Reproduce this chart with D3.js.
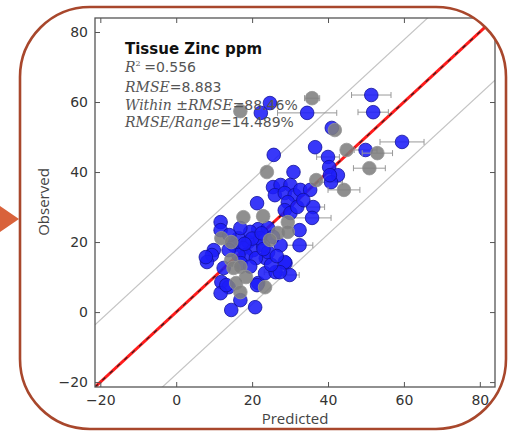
<!DOCTYPE html>
<html>
<head>
<meta charset="utf-8">
<script src="https://cdn.jsdelivr.net/npm/d3@7"></script>
<style>
  body { margin: 0; background: #fff; }
</style>
</head>
<body>
<script>
// Chart size and plot box.
const width = 508;
const height = 434;
const marginTop = 18;
const marginRight = 8;
const marginBottom = 47;
const marginLeft = 95;

// Data: predicted (x), observed (y), x error.
const predictedBlue = [51.4, 51.9, 34.5, 22.3, 24.7, 41.0, 59.5, 36.6, 49.9, 40.0, 25.7, 40.3, 42.6, 40.8, 30.9,
  25.5, 27.5, 30.1, 26.0, 28.6, 31.2, 32.7, 35.3, 36.1, 35.8, 21.3, 29.4, 28.6, 30.1, 31.9, 32.5, 32.5, 11.7, 11.7,
  21.6, 24.2, 16.4, 19.0, 15.1, 9.9, 9.4, 8.1, 12.5, 11.9, 13.8, 11.7, 16.9, 14.5, 20.8, 21.6, 23.4, 26.2, 28.8,
  29.9, 23.6, 28.6, 27.3, 21.3, 17.7, 20.3, 22.9, 18.4, 21.0, 24.2, 16.4, 13.8, 22.1, 19.5, 16.9, 27.5, 7.8, 13.2,
  20.0, 22.5, 18.0, 25.5, 14.0, 17.0, 19.5, 25.0, 26.5, 40.5, 33.5, 23.0];
const observedBlue = [62.0, 57.1, 56.9, 56.9, 59.7, 52.6, 48.6, 47.1, 46.3, 44.3, 44.9, 41.4, 39.1, 37.1, 40.0,
  35.7, 36.3, 36.3, 33.4, 34.0, 33.4, 34.9, 34.9, 30.0, 26.9, 31.1, 31.4, 29.1, 28.3, 30.0, 23.4, 19.1, 25.7, 23.4,
  23.7, 24.0, 21.1, 20.0, 19.1, 17.7, 16.3, 14.3, 12.6, 8.6, 7.1, 5.4, 3.4, 0.6, 1.4, 8.3, 11.1, 11.4, 14.0,
  10.6, 15.4, 14.3, 11.4, 7.7, 18.3, 17.7, 19.1, 16.3, 15.4, 17.1, 16.3, 17.7, 21.1, 22.9, 24.0, 19.1, 15.7, 7.7,
  21.0, 22.5, 19.5, 21.5, 22.0, 14.0, 13.0, 13.5, 16.0, 39.1, 32.0, 18.0];
const errBlue = [5.2, 4, 7.8, 0, 0, 0, 5.8, 0, 3, 3, 0, 0, 0, 3, 0,
  0, 0, 0, 0, 0, 0, 0, 0, 3, 5, 0, 0, 0, 0, 0, 0, 3.5, 0, 0,
  0, 0, 0, 0, 0, 0, 0, 0, 0, 0, 0, 0, 0, 0, 0, 0, 0, 3, 0,
  2.5, 0, 0, 0, 0, 0, 0, 0, 0, 0, 0, 0, 0, 0, 0, 0, 0, 0, 0,
  0, 0, 0, 0, 0, 0, 0, 0, 0, 0, 0, 0];

const predictedGray = [35.8, 16.9, 41.8, 44.9, 53.0, 50.9, 44.2, 36.9, 23.9, 17.7, 22.9, 29.4, 26.8, 29.4, 11.9,
  24.7, 14.5, 15.1, 16.9, 18.4, 15.8, 16.9, 23.4, 14.5];
const observedGray = [61.1, 57.4, 52.0, 46.3, 45.4, 41.1, 34.9, 37.7, 40.0, 27.1, 27.4, 25.7, 22.6, 22.9, 21.1,
  20.6, 14.9, 12.6, 12.9, 10.0, 8.3, 5.7, 7.1, 20.0];
const errGray = [2, 0, 0, 0, 4, 4.2, 4.2, 0, 0, 0, 0, 0, 0, 0, 0,
  0, 0, 0, 0, 0, 0, 0, 0, 0];

const axisDomain = [-21.4, 84];
const tickValues = [-20, 0, 20, 40, 60, 80];
const rmse = 8.883;

const blue = predictedBlue.map((d, i) => ({ x: d, y: observedBlue[i], e: errBlue[i] }));
const gray = predictedGray.map((d, i) => ({ x: d, y: observedGray[i], e: errGray[i] }));

const x = d3.scaleLinear(axisDomain, [marginLeft, width - marginRight - 5]);
const y = d3.scaleLinear(axisDomain, [height - marginBottom, marginTop]);

const svg = d3.select("body").append("svg")
  .attr("width", width)
  .attr("height", height)
  .attr("viewBox", [0, 0, width, height]);

// Arrow pointing at the card.
svg.append("path")
  .attr("d", "M0,206L19,219L0,232Z")
  .attr("fill", "#d9623b");

const defs = svg.append("defs");
defs.append("clipPath").attr("id", "card")
  .append("rect")
  .attr("x", 20).attr("y", 7).attr("width", 486).attr("height", 422).attr("rx", 70);
defs.append("clipPath").attr("id", "plot")
  .append("rect")
  .attr("x", x.range()[0]).attr("y", y.range()[1])
  .attr("width", x.range()[1] - x.range()[0])
  .attr("height", y.range()[0] - y.range()[1]);

const card = svg.append("g").attr("clip-path", "url(#card)");
const plot = card.append("g").attr("clip-path", "url(#plot)");

// +/- 2 RMSE bands.
for (const off of [-2 * rmse, 2 * rmse]) {
  plot.append("line")
    .attr("x1", x(axisDomain[0])).attr("y1", y(axisDomain[0] + off))
    .attr("x2", x(axisDomain[1])).attr("y2", y(axisDomain[1] + off))
    .attr("stroke", "#c4c4c4")
    .attr("stroke-width", 1.2);
}

// 1:1 line, red with a black dashed line on top.
plot.append("line")
  .attr("x1", x(axisDomain[0])).attr("y1", y(axisDomain[0]))
  .attr("x2", x(axisDomain[1])).attr("y2", y(axisDomain[1]))
  .attr("stroke", "#ff1c1c")
  .attr("stroke-width", 3);
plot.append("line")
  .attr("x1", x(axisDomain[0])).attr("y1", y(axisDomain[0]))
  .attr("x2", x(axisDomain[1])).attr("y2", y(axisDomain[1]))
  .attr("stroke", "#222")
  .attr("stroke-width", 1.1)
  .attr("stroke-dasharray", "4,6");

// Draw error bars, then points.
function drawSeries(data, fill, stroke) {
  const bars = plot.append("g")
    .attr("stroke", "#999")
    .attr("stroke-width", 1)
    .selectAll("g")
    .data(data.filter((d) => d.e > 0))
    .join("g");
  bars.append("line")
    .attr("x1", (d) => x(d.x - d.e)).attr("x2", (d) => x(d.x + d.e))
    .attr("y1", (d) => y(d.y)).attr("y2", (d) => y(d.y));
  bars.append("line")
    .attr("x1", (d) => x(d.x - d.e)).attr("x2", (d) => x(d.x - d.e))
    .attr("y1", (d) => y(d.y) - 3).attr("y2", (d) => y(d.y) + 3);
  bars.append("line")
    .attr("x1", (d) => x(d.x + d.e)).attr("x2", (d) => x(d.x + d.e))
    .attr("y1", (d) => y(d.y) - 3).attr("y2", (d) => y(d.y) + 3);

  plot.append("g")
    .selectAll("circle")
    .data(data)
    .join("circle")
    .attr("cx", (d) => x(d.x))
    .attr("cy", (d) => y(d.y))
    .attr("r", 6.8)
    .attr("fill", fill)
    .attr("fill-opacity", 0.88)
    .attr("stroke", stroke)
    .attr("stroke-width", 0.8);
}
drawSeries(blue, "#1c1cf8", "#10109a");
drawSeries(gray, "#808080", "#969696");

// Axes, ticks pointing inward on all four sides.
const fontTicks = (g) => g.selectAll("text")
  .attr("font-family", "DejaVu Sans")
  .attr("font-size", 14)
  .attr("fill", "#333");

card.append("g")
  .attr("transform", `translate(0,${y.range()[0]})`)
  .call(d3.axisBottom(x).tickValues(tickValues).tickSizeInner(-5).tickSizeOuter(0).tickPadding(8))
  .call((g) => g.select(".domain").remove())
  .call((g) => g.selectAll(".tick line").attr("stroke", "#555"))
  .call(fontTicks);
card.append("g")
  .attr("transform", `translate(0,${y.range()[1]})`)
  .call(d3.axisTop(x).tickValues(tickValues).tickSizeInner(-5).tickSizeOuter(0).tickFormat(""))
  .call((g) => g.select(".domain").remove())
  .call((g) => g.selectAll(".tick line").attr("stroke", "#555"));
card.append("g")
  .attr("transform", `translate(${x.range()[0]},0)`)
  .call(d3.axisLeft(y).tickValues(tickValues).tickSizeInner(-5).tickSizeOuter(0).tickPadding(7))
  .call((g) => g.select(".domain").remove())
  .call((g) => g.selectAll(".tick line").attr("stroke", "#555"))
  .call(fontTicks);
card.append("g")
  .attr("transform", `translate(${x.range()[1]},0)`)
  .call(d3.axisRight(y).tickValues(tickValues).tickSizeInner(-5).tickSizeOuter(0).tickFormat(""))
  .call((g) => g.select(".domain").remove())
  .call((g) => g.selectAll(".tick line").attr("stroke", "#555"));

// Plot frame.
card.append("rect")
  .attr("x", x.range()[0]).attr("y", y.range()[1])
  .attr("width", x.range()[1] - x.range()[0])
  .attr("height", y.range()[0] - y.range()[1])
  .attr("fill", "none")
  .attr("stroke", "#555")
  .attr("stroke-width", 1.3);

// Axis labels.
card.append("text")
  .attr("x", (x.range()[0] + x.range()[1]) / 2)
  .attr("y", 424)
  .attr("text-anchor", "middle")
  .attr("font-family", "Open Sans")
  .attr("font-size", 15)
  .attr("fill", "#444")
  .text("Predicted");
card.append("text")
  .attr("transform", "translate(49,202) rotate(-90)")
  .attr("text-anchor", "middle")
  .attr("font-family", "Open Sans")
  .attr("font-size", 15)
  .attr("fill", "#444")
  .text("Observed");

// Title and statistics.
card.append("text")
  .attr("x", 125).attr("y", 54)
  .attr("font-family", "DejaVu Sans")
  .attr("font-weight", "bold")
  .attr("font-size", 15)
  .attr("fill", "#111")
  .text("Tissue Zinc ppm");

const stats = [
  { y: 72, label: "R", sup: "2", value: "0.556" },
  { y: 92, label: "RMSE", value: "8.883" },
  { y: 110, label: "Within \u00b1RMSE", value: "88.46%" },
  { y: 127, label: "RMSE/Range", value: "14.489%" },
];
for (const s of stats) {
  const t = card.append("text")
    .attr("x", 125).attr("y", s.y)
    .attr("fill", "#555");
  t.append("tspan")
    .attr("font-family", "DejaVu Serif")
    .attr("font-style", "italic")
    .attr("font-size", 14)
    .text(s.label);
  if (s.sup) {
    t.append("tspan")
      .attr("font-family", "DejaVu Serif")
      .attr("font-size", 8)
      .attr("dy", -6)
      .text(s.sup);
    t.append("tspan").attr("dy", 6).attr("font-size", 14).text(" ");
  }
  t.append("tspan")
    .attr("font-family", "DejaVu Serif")
    .attr("font-size", 14)
    .text("=");
  t.append("tspan")
    .attr("font-family", "DejaVu Sans")
    .attr("font-size", 14)
    .text(s.value);
}

// Card border.
svg.append("rect")
  .attr("x", 20).attr("y", 7).attr("width", 486).attr("height", 422).attr("rx", 70)
  .attr("fill", "none")
  .attr("stroke", "#a8472c")
  .attr("stroke-width", 2.6);
</script>
</body>
</html>
